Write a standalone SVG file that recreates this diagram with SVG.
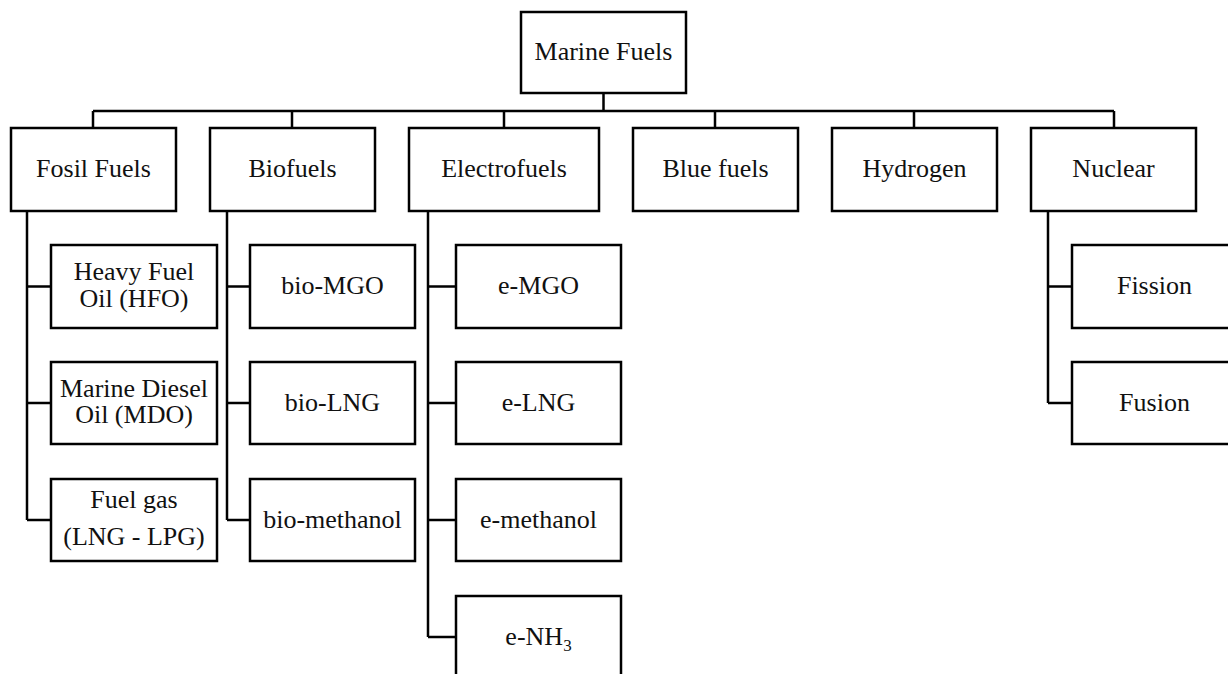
<svg xmlns="http://www.w3.org/2000/svg" width="1228" height="674" viewBox="0 0 1228 674">
<style>
.box{fill:#fff;stroke:#000;stroke-width:2.5}
.t{font-family:"Liberation Serif","Times New Roman",serif;font-size:26px;fill:#111;text-anchor:middle}
.c{fill:none;stroke:#000;stroke-width:2.5}
</style>
<rect width="1228" height="674" fill="#fff"/>
<g id="connectors">
<path class="c" d="M603.5 93V111M93 111H1114M93 111V128M292 111V128M504 111V128M715 111V128M914 111V128M1114 111V128"/>
<path class="c" d="M27 211V520M27 286.5H51M27 403H51M27 520H51"/>
<path class="c" d="M227 211V520M227 286.5H250M227 403H250M227 520H250"/>
<path class="c" d="M428 211V637M428 286.5H456M428 403H456M428 520H456M428 637H456"/>
<path class="c" d="M1048 211V403M1048 286.5H1072M1048 403H1072"/>
</g>
<g id="marine-fuels"><rect class="box" x="521" y="12" width="165" height="81"/><text class="t" x="603.5" y="60">Marine Fuels</text></g>
<g id="fosil-fuels"><rect class="box" x="11" y="128" width="165" height="83"/><text class="t" x="93.5" y="177">Fosil Fuels</text></g>
<g id="biofuels"><rect class="box" x="210" y="128" width="165" height="83"/><text class="t" x="292.5" y="177">Biofuels</text></g>
<g id="electrofuels"><rect class="box" x="409" y="128" width="190" height="83"/><text class="t" x="504" y="177">Electrofuels</text></g>
<g id="blue-fuels"><rect class="box" x="633" y="128" width="165" height="83"/><text class="t" x="715.5" y="177">Blue fuels</text></g>
<g id="hydrogen"><rect class="box" x="832" y="128" width="165" height="83"/><text class="t" x="914.5" y="177">Hydrogen</text></g>
<g id="nuclear"><rect class="box" x="1031" y="128" width="165" height="83"/><text class="t" x="1113.5" y="177">Nuclear</text></g>
<g id="hfo"><rect class="box" x="51" y="245" width="166" height="83"/><text class="t" x="134" y="280">Heavy Fuel</text><text class="t" x="134" y="307">Oil (HFO)</text></g>
<g id="mdo"><rect class="box" x="51" y="362" width="166" height="82"/><text class="t" x="134" y="396.5">Marine Diesel</text><text class="t" x="134" y="423">Oil (MDO)</text></g>
<g id="fuel-gas"><rect class="box" x="51" y="479" width="166" height="82"/><text class="t" x="134" y="508">Fuel gas</text><text class="t" x="134" y="545">(LNG - LPG)</text></g>
<g id="bio-mgo"><rect class="box" x="250" y="245" width="165" height="83"/><text class="t" x="332.5" y="294">bio-MGO</text></g>
<g id="bio-lng"><rect class="box" x="250" y="362" width="165" height="82"/><text class="t" x="332.5" y="411">bio-LNG</text></g>
<g id="bio-methanol"><rect class="box" x="250" y="479" width="165" height="82"/><text class="t" x="332.5" y="528">bio-methanol</text></g>
<g id="e-mgo"><rect class="box" x="456" y="245" width="165" height="83"/><text class="t" x="538.5" y="294">e-MGO</text></g>
<g id="e-lng"><rect class="box" x="456" y="362" width="165" height="82"/><text class="t" x="538.5" y="411">e-LNG</text></g>
<g id="e-methanol"><rect class="box" x="456" y="479" width="165" height="82"/><text class="t" x="538.5" y="528">e-methanol</text></g>
<g id="e-nh3"><rect class="box" x="456" y="596" width="165" height="83"/><text class="t" x="538.5" y="645">e-NH<tspan font-size="17" dy="6">3</tspan></text></g>
<g id="fission"><rect class="box" x="1072" y="245" width="165" height="83"/><text class="t" x="1154.5" y="294">Fission</text></g>
<g id="fusion"><rect class="box" x="1072" y="362" width="165" height="82"/><text class="t" x="1154.5" y="411">Fusion</text></g>
</svg>
